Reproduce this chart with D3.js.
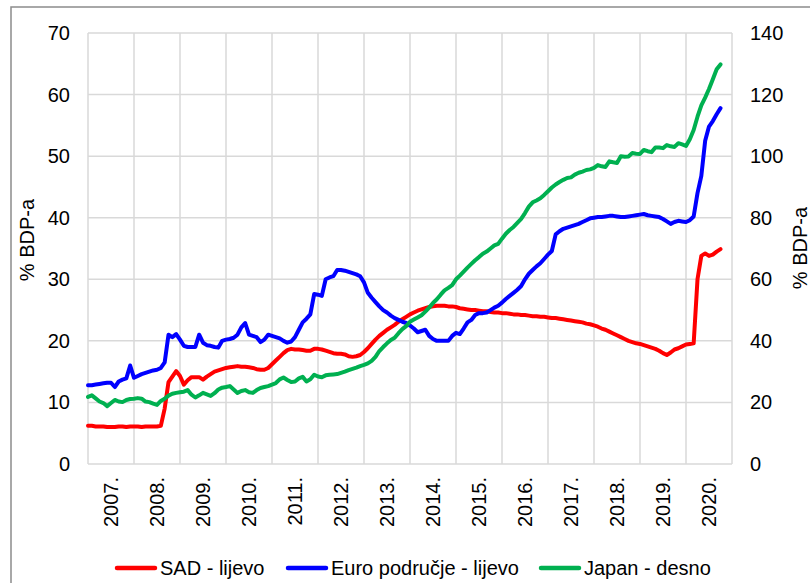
<!DOCTYPE html>
<html>
<head>
<meta charset="utf-8">
<script src="https://cdn.jsdelivr.net/npm/d3@7"></script>
<style>
  body { margin: 0; background: #fff; }
  svg text { font-family: "Liberation Sans", Arial, sans-serif; fill: #000; }
</style>
</head>
<body>
<div id="chart"></div>
<script>
// godine na osi x (mjesečni podaci od siječnja 2007.)
const years = ["2007.", "2008.", "2009.", "2010.", "2011.", "2012.", "2013.",
  "2014.", "2015.", "2016.", "2017.", "2018.", "2019.", "2020."];

const leftTicks = [0, 10, 20, 30, 40, 50, 60, 70];
const rightTicks = [0, 20, 40, 60, 80, 100, 120, 140];

// SAD - lijevo (% BDP-a)
const sad = [
  6.2, 6.2, 6.1, 6.1, 6.1, 6.0, 6.0, 6.0, 6.1, 6.1, 6.0, 6.1,
  6.1, 6.1, 6.0, 6.1, 6.1, 6.1, 6.1, 6.2, 9.0, 13.3, 14.2, 15.1,
  14.3, 12.9, 13.6, 14.1, 14.1, 14.1, 13.7, 14.2, 14.6, 15.0, 15.2, 15.4,
  15.6, 15.7, 15.8, 15.9, 15.8, 15.8, 15.7, 15.6, 15.4, 15.3, 15.3, 15.6,
  16.2, 16.8, 17.4, 18.0, 18.5, 18.7, 18.6, 18.6, 18.5, 18.4, 18.4, 18.7,
  18.7, 18.6, 18.4, 18.2, 18.0, 17.9, 17.9, 17.8, 17.5, 17.4, 17.5, 17.7,
  18.2, 18.8, 19.5, 20.2, 20.8, 21.3, 21.8, 22.2, 22.6, 23.1, 23.5, 23.9,
  24.3, 24.6, 24.9, 25.1, 25.3, 25.5, 25.6, 25.7, 25.7, 25.7, 25.6, 25.6,
  25.5, 25.3, 25.2, 25.1, 25.0, 25.0, 24.9, 24.8, 24.8, 24.7, 24.6, 24.6,
  24.5, 24.5, 24.4, 24.3, 24.3, 24.2, 24.2, 24.1, 24.0, 24.0, 23.9, 23.9,
  23.8, 23.7, 23.7, 23.6, 23.5, 23.4, 23.3, 23.2, 23.1, 23.0, 22.8, 22.7,
  22.5, 22.3, 22.0, 21.8, 21.5, 21.2, 20.9, 20.6, 20.3, 20.0, 19.8, 19.6,
  19.5, 19.3, 19.1, 18.9, 18.7, 18.4, 18.0, 17.7, 18.1, 18.6, 18.8, 19.1,
  19.4, 19.5, 19.6, 30.0, 33.8, 34.2, 33.8, 34.0, 34.5, 34.9
];

// Euro područje - lijevo (% BDP-a)
const euro = [
  12.8, 12.8, 12.9, 13.0, 13.1, 13.2, 13.2, 12.5, 13.4, 13.7, 13.9, 16.0,
  14.0, 14.3, 14.6, 14.8, 15.0, 15.2, 15.3, 15.6, 16.5, 21.0, 20.6, 21.1,
  20.2, 19.2, 19.0, 19.0, 19.0, 21.0, 19.7, 19.3, 19.2, 19.0, 18.9, 20.0,
  20.2, 20.3, 20.5, 21.0, 22.2, 22.9, 21.0, 20.8, 20.6, 19.8, 20.2, 21.0,
  20.8, 20.6, 20.4, 20.0, 19.7, 19.9, 20.6, 21.8, 23.0, 23.6, 24.3, 27.6,
  27.5, 27.3, 30.0, 30.3, 30.5, 31.5, 31.5, 31.4, 31.2, 31.0, 30.8, 30.5,
  29.5, 27.8, 27.0, 26.3, 25.6, 25.0, 24.6, 24.1, 23.7, 23.4, 23.1, 22.9,
  22.5, 22.0, 21.4, 21.6, 21.8, 20.8, 20.3, 20.0, 20.0, 20.0, 20.0, 20.8,
  21.3, 21.1, 22.0, 23.0, 23.4, 24.2, 24.5, 24.5, 24.6, 25.0, 25.4, 25.7,
  26.2, 26.8, 27.3, 27.8, 28.3, 28.9, 30.0, 30.9, 31.5, 32.1, 32.6, 33.3,
  34.0, 34.6, 37.3, 37.8, 38.2, 38.4, 38.6, 38.8, 39.0, 39.3, 39.6, 39.9,
  40.0, 40.1, 40.1, 40.2, 40.3, 40.3, 40.2, 40.1, 40.1, 40.2, 40.3, 40.4,
  40.5, 40.6, 40.4, 40.3, 40.2, 40.1, 39.8, 39.4, 39.0, 39.3, 39.5, 39.4,
  39.3, 39.6, 40.2, 44.0, 46.8, 52.5, 54.8, 55.7, 56.8, 57.8
];

// Japan - desno (% BDP-a)
const japan = [
  21.8, 22.3, 21.3, 20.3, 19.8, 18.8, 19.8, 20.8, 20.3, 20.1, 20.8, 21.1,
  21.2, 21.4, 21.2, 20.3, 20.1, 19.6, 19.2, 20.5, 21.2, 22.2, 22.8, 23.1,
  23.3, 23.5, 24.0, 22.5, 21.6, 22.3, 23.1, 22.6, 22.1, 23.0, 24.2, 24.8,
  25.0, 25.3, 24.2, 23.1, 23.7, 24.0, 23.3, 23.1, 24.0, 24.7, 25.0, 25.3,
  25.8, 26.3, 27.5, 28.1, 27.3, 26.6, 26.8, 27.8, 28.3, 26.8, 27.5, 29.0,
  28.4, 28.2, 28.8, 29.0, 29.1, 29.2, 29.6, 30.0, 30.5, 30.9, 31.3, 31.8,
  32.2, 32.7, 33.5, 34.8, 36.7, 38.0, 39.2, 40.3, 41.0, 42.5, 43.8, 44.8,
  46.2, 46.9, 47.6, 48.3, 49.5, 50.8, 52.3, 53.5, 55.0, 56.4, 57.2, 58.1,
  60.0, 61.2, 62.5, 63.8, 65.0, 66.2, 67.2, 68.3, 69.0, 70.0, 71.0, 71.5,
  73.2, 74.8, 76.0, 77.0, 78.3, 79.6, 81.5, 83.6, 85.0, 85.6, 86.3, 87.4,
  88.6, 89.8, 90.8, 91.6, 92.3, 92.9, 93.1, 94.0, 94.6, 95.0, 95.5, 95.7,
  96.2, 97.1, 96.7, 96.5, 98.3, 98.0, 97.8, 100.0, 99.8, 99.9, 101.0, 100.8,
  100.7, 102.0, 101.6, 101.3, 102.8, 102.8, 102.6, 103.6, 103.2, 103.0, 104.2, 103.8,
  103.3, 105.5, 108.5, 112.8, 116.5, 119.0, 121.8, 125.0, 128.2, 129.8
];

const width = 810, height = 583;
const plot = { left: 88, right: 732, top: 33, bottom: 464 };

const svg = d3.select("#chart").append("svg")
  .attr("width", width)
  .attr("height", height);

// okvir
svg.append("rect")
  .attr("x", 11).attr("y", 7)
  .attr("width", 820).attr("height", 620)
  .attr("fill", "none")
  .attr("stroke", "#8c8c8c")
  .attr("stroke-width", 1.5);

const x = d3.scaleLinear().domain([0, years.length * 12]).range([plot.left, plot.right]);
const xBand = d3.scaleBand().domain(years).range([plot.left, plot.right]);
const yLeft = d3.scaleLinear().domain([0, 70]).range([plot.bottom, plot.top]);
const yRight = d3.scaleLinear().domain([0, 140]).range([plot.bottom, plot.top]);

/* ---------- mreža ---------- */
const grid = svg.append("g").attr("stroke", "#d9d9d9").attr("stroke-width", 1.5);

grid.selectAll("line.h")
  .data(leftTicks)
  .enter().append("line")
  .attr("x1", plot.left).attr("x2", plot.right)
  .attr("y1", d => yLeft(d)).attr("y2", d => yLeft(d));

grid.selectAll("line.v")
  .data(d3.range(years.length + 1))
  .enter().append("line")
  .attr("x1", d => x(d * 12)).attr("x2", d => x(d * 12))
  .attr("y1", plot.top).attr("y2", plot.bottom);

/* ---------- osi ---------- */
svg.append("g")
  .selectAll("text")
  .data(leftTicks)
  .enter().append("text")
  .attr("x", 70)
  .attr("y", d => yLeft(d))
  .attr("dy", "0.35em")
  .attr("text-anchor", "end")
  .style("font-size", "20px")
  .text(d => d);

svg.append("g")
  .selectAll("text")
  .data(rightTicks)
  .enter().append("text")
  .attr("x", 750)
  .attr("y", d => yRight(d))
  .attr("dy", "0.35em")
  .attr("text-anchor", "start")
  .style("font-size", "20px")
  .text(d => d);

svg.append("g")
  .selectAll("text")
  .data(years)
  .enter().append("text")
  .attr("transform", d => `translate(${xBand(d) + xBand.bandwidth() / 2},477) rotate(-90)`)
  .attr("dy", "0.35em")
  .attr("text-anchor", "end")
  .style("font-size", "20px")
  .text(d => d);

svg.append("text")
  .attr("transform", "translate(27,240) rotate(-90)")
  .attr("dy", "0.35em")
  .attr("text-anchor", "middle")
  .style("font-size", "20px")
  .text("% BDP-a");

svg.append("text")
  .attr("transform", "translate(800,248) rotate(-90)")
  .attr("dy", "0.35em")
  .attr("text-anchor", "middle")
  .style("font-size", "20px")
  .text("% BDP-a");

/* ---------- linije ---------- */
const series = [
  { name: "SAD - lijevo", values: sad, color: "#ff0000", scale: yLeft },
  { name: "Euro područje - lijevo", values: euro, color: "#0000ff", scale: yLeft },
  { name: "Japan - desno", values: japan, color: "#00b050", scale: yRight }
];

series.forEach(function (s) {
  const line = d3.line()
    .x((d, i) => x(i))
    .y(d => s.scale(d));
  svg.append("path")
    .datum(s.values)
    .attr("d", line)
    .attr("fill", "none")
    .attr("stroke", s.color)
    .attr("stroke-width", 4)
    .attr("stroke-linejoin", "round")
    .attr("stroke-linecap", "round");
});

/* ---------- legenda ---------- */
const legendX = [117, 288, 541];
const legend = svg.append("g");
series.forEach(function (s, i) {
  legend.append("line")
    .attr("x1", legendX[i]).attr("x2", legendX[i] + 38)
    .attr("y1", 568).attr("y2", 568)
    .attr("stroke", s.color)
    .attr("stroke-width", 4.5)
    .attr("stroke-linecap", "round");
  legend.append("text")
    .attr("x", legendX[i] + 43)
    .attr("y", 568)
    .attr("dy", "0.35em")
    .style("font-size", "20px")
    .text(s.name);
});
</script>
</body>
</html>
